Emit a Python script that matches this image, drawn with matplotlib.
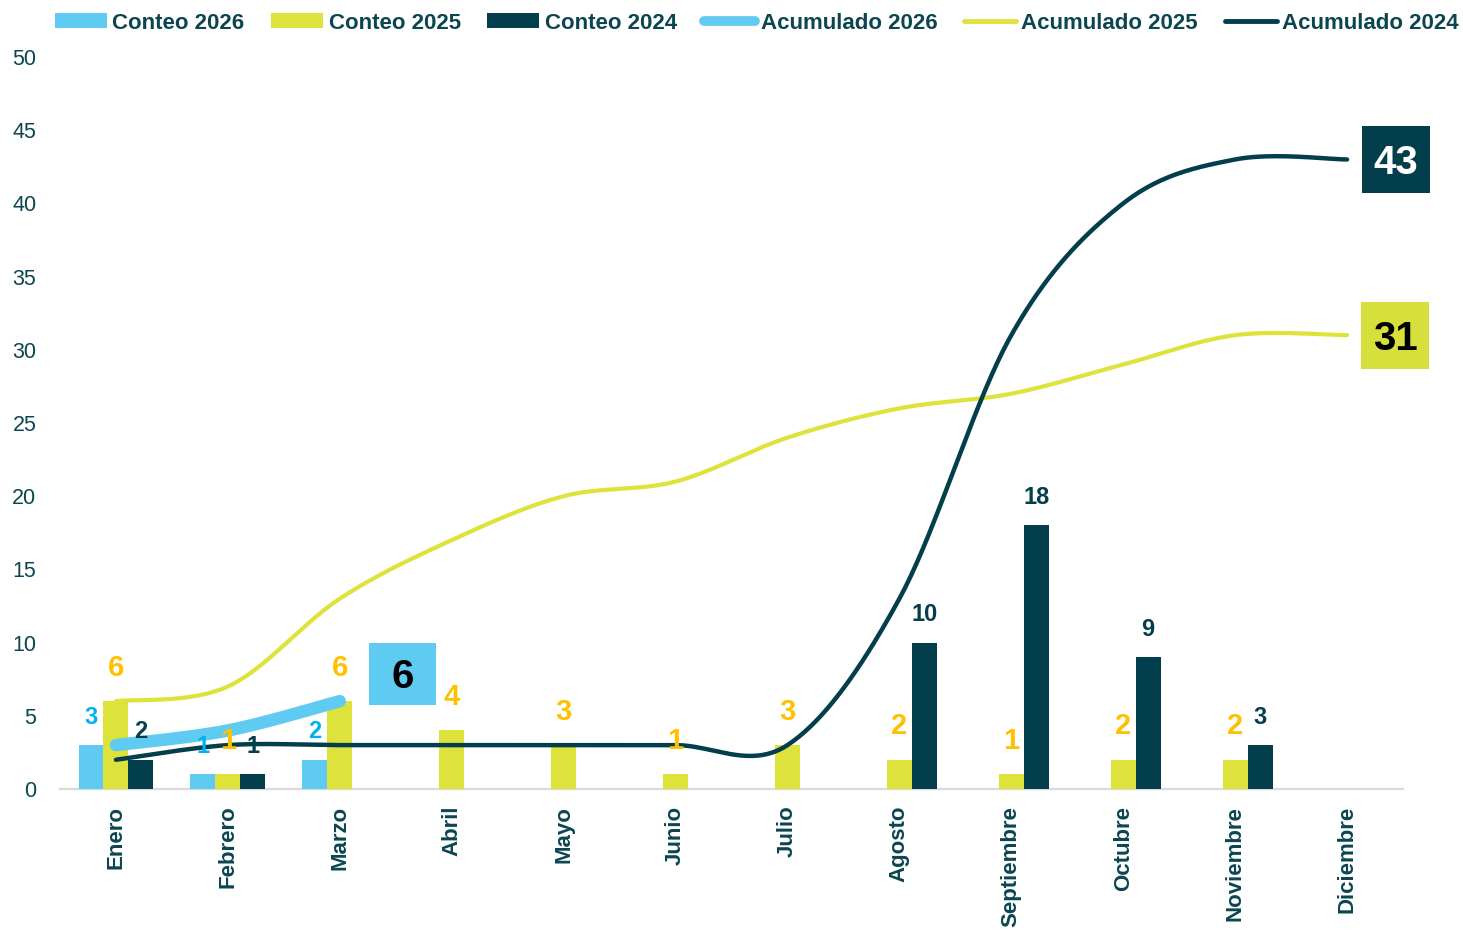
import numpy as np
import matplotlib
matplotlib.use("Agg")
import matplotlib.pyplot as plt
from matplotlib.lines import Line2D
from matplotlib.patches import Patch, Rectangle

plt.rcParams['font.family'] = ['Liberation Sans', 'DejaVu Sans']

months = ["Enero", "Febrero", "Marzo", "Abril", "Mayo", "Junio", "Julio",
          "Agosto", "Septiembre", "Octubre", "Noviembre", "Diciembre"]
conteo_2026 = [3, 1, 2, None, None, None, None, None, None, None, None, None]
conteo_2025 = [6, 1, 6, 4, 3, 1, 3, 2, 1, 2, 2, None]
conteo_2024 = [2, 1, None, None, None, None, None, 10, 18, 9, 3, None]
acum_2026 = [3, 4, 6]
acum_2025 = [6, 7, 13, 17, 20, 21, 24, 26, 27, 29, 31, 31]
acum_2024 = [2, 3, 3, 3, 3, 3, 3, 13, 31, 40, 43, 43]

C26 = "#5FCAF2"
C25 = "#DDE33B"
C24 = "#033E4C"
TXT = "#0B4650"
L26 = "#00B0F0"
L25 = "#FFC000"


def excel_smooth(xs, ys, n=40):
    pts = np.column_stack([xs, ys]).astype(float)
    m = len(pts)
    out = []
    t = np.linspace(0, 1, n)[:, None]
    for i in range(m - 1):
        p0 = pts[i - 1] if i > 0 else pts[i]
        p1 = pts[i]
        p2 = pts[i + 1]
        p3 = pts[i + 2] if i + 2 < m else pts[i + 1]
        c1 = p1 + (p2 - p0) / 6
        c2 = p2 - (p3 - p1) / 6
        seg = (1 - t) ** 3 * p1 + 3 * (1 - t) ** 2 * t * c1 + 3 * (1 - t) * t ** 2 * c2 + t ** 3 * p2
        out.append(seg if i == 0 else seg[1:])
    return np.vstack(out)


fig = plt.figure(figsize=(14.63, 9.31), dpi=100)
ax = fig.add_axes([0.041, 0.1525, 0.918, 0.7863])

x = np.arange(len(months))
bw = 0.223


def to_arr(v):
    return np.array([np.nan if a is None else a for a in v], dtype=float)


series = [(conteo_2026, -bw, C26, L26, 17, 20),
          (conteo_2025, 0.0, C25, L25, 21, 24),
          (conteo_2024, bw, C24, C24, 17, 20)]
for vals, off, col, lcol, fs, dy in series:
    arr = to_arr(vals)
    ax.bar(x + off, np.nan_to_num(arr), width=bw, color=col, zorder=2)
    for xi, v in zip(x, arr):
        if not np.isnan(v) and v > 0:
            ax.annotate(f"{int(v)}", (xi + off, v), xytext=(0, dy), textcoords="offset points",
                        ha="center", va="center", fontsize=fs, fontweight="bold", color=lcol, zorder=6)

s25 = excel_smooth(x, acum_2025)
ax.plot(s25[:, 0], s25[:, 1], color=C25, lw=3, zorder=3, solid_capstyle="round")
s26 = excel_smooth(x[:len(acum_2026)], acum_2026)
ax.plot(s26[:, 0], s26[:, 1], color=C26, lw=9, zorder=4, solid_capstyle="round")
s24 = excel_smooth(x, acum_2024)
ax.plot(s24[:, 0], s24[:, 1], color=C24, lw=3.2, zorder=5, solid_capstyle="round")

# end-value boxes
px_x = 112.0  # pixels per category unit
px_y = 14.64  # pixels per y unit


def box(xc, yc, w_px, h_px, fc, text, tc):
    w = w_px / px_x
    h = h_px / px_y
    ax.add_patch(Rectangle((xc - w / 2, yc - h / 2), w, h, facecolor=fc, edgecolor="none",
                           zorder=7, clip_on=False))
    ax.text(xc, yc - 3.5 / px_y, text, ha="center", va="center", fontsize=29, fontweight="bold",
            color=tc, zorder=8, clip_on=False)


box(x[len(acum_2026) - 1] + 62.5 / px_x, acum_2026[-1] + 1.86, 67, 62, C26, f"{acum_2026[-1]}", "black")
box(x[-1] + 49 / px_x, acum_2024[-1], 68, 67, C24, f"{acum_2024[-1]}", "white")
box(x[-1] + 48 / px_x, acum_2025[-1], 68, 67, "#D7DF3C", f"{acum_2025[-1]}", "black")

ax.set_xlim(-0.5, 11.5)
ax.set_ylim(0, 50)
ax.set_yticks(np.arange(0, 51, 5))
ax.set_xticks(x)
ax.set_xticklabels(months, rotation=90, fontsize=16, fontweight="bold", color=TXT)
ax.tick_params(axis="y", length=0, pad=17, labelsize=15.5, labelcolor=TXT)
ax.tick_params(axis="x", length=0, pad=12)
for sp in ["top", "right", "left"]:
    ax.spines[sp].set_visible(False)
ax.spines["bottom"].set_color("#D9D9D9")
ax.spines["bottom"].set_linewidth(1.6)
ax.spines["bottom"].set_zorder(1)

handles = [Patch(facecolor=C26, label="Conteo 2026"),
           Patch(facecolor=C25, label="Conteo 2025"),
           Patch(facecolor=C24, label="Conteo 2024"),
           Line2D([], [], color=C26, lw=7, solid_capstyle="round", label="Acumulado 2026"),
           Line2D([], [], color=C25, lw=3.5, solid_capstyle="round", label="Acumulado 2025"),
           Line2D([], [], color=C24, lw=3.5, solid_capstyle="round", label="Acumulado 2024")]
leg = fig.legend(handles=handles, loc="upper center", bbox_to_anchor=(0.5174, 1.008), ncol=6,
                 frameon=False, handlelength=2.33, handleheight=0.63,
                 handletextpad=0.25, columnspacing=1.2, prop={"weight": "bold", "size": 16})
for t in leg.get_texts():
    t.set_color(TXT)

fig.savefig("out.png", dpi=100)
